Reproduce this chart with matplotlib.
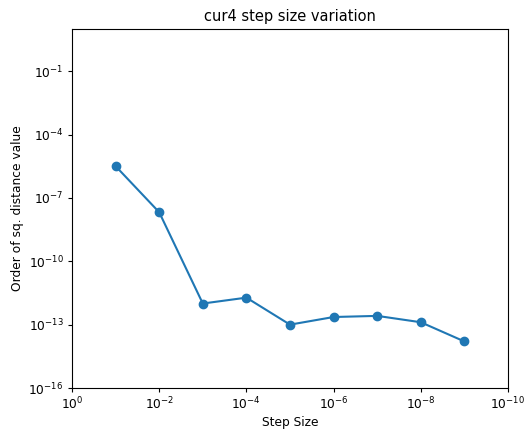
import matplotlib
matplotlib.use("Agg")
import matplotlib.pyplot as plt

step_sizes = [1e-1, 1e-2, 1e-3, 1e-4, 1e-5, 1e-6, 1e-7, 1e-8, 1e-9]
sq_distance = [3.2e-6, 2.1e-8, 1.0e-12, 1.9e-12, 1.0e-13, 2.3e-13, 2.6e-13, 1.3e-13, 1.6e-14]

plt.rcParams['font.size'] = 8.8
plt.rcParams['xtick.major.size'] = 3.0
plt.rcParams['ytick.major.size'] = 3.0
plt.rcParams['xtick.major.pad'] = 2.5
plt.rcParams['ytick.major.pad'] = 3.0
plt.rcParams['axes.labelpad'] = 3.0

fig = plt.figure(figsize=(5.28, 4.29), dpi=100)
ax = fig.add_axes([72/528, 1-388/429, (508-72)/528, (388-29)/429])
ax.plot(step_sizes, sq_distance, marker='o', color='#1f77b4')
ax.set_xscale('log')
ax.set_yscale('log')
ax.set_xlim(1e0, 1e-10)
ax.set_ylim(1e-16, 1e1)
ax.set_xticks([1e0, 1e-2, 1e-4, 1e-6, 1e-8, 1e-10])
ax.set_yticks([1e-16, 1e-13, 1e-10, 1e-7, 1e-4, 1e-1])
ax.minorticks_off()
ax.set_title('cur4 step size variation')
ax.set_xlabel('Step Size')
ax.set_ylabel('Order of sq. distance value')
fig.savefig('out.png', dpi=100)
